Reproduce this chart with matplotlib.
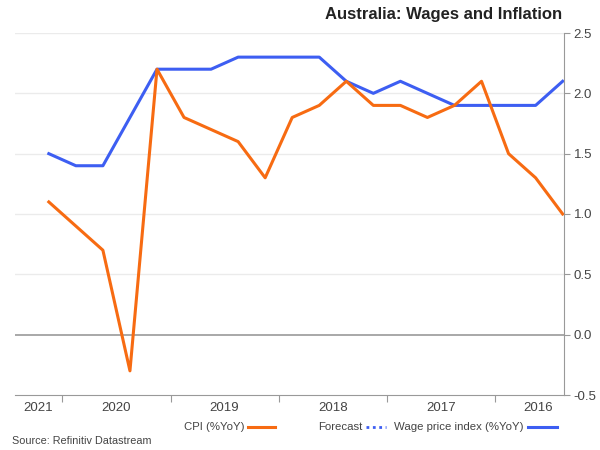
import matplotlib
matplotlib.use("Agg")
import matplotlib.pyplot as plt
from matplotlib.lines import Line2D
from matplotlib.transforms import ScaledTranslation

plt.rcParams['font.family'] = ['Liberation Sans', 'DejaVu Sans']

quarters = ["2016Q2", "2016Q3", "2016Q4", "2017Q1", "2017Q2", "2017Q3", "2017Q4",
            "2018Q1", "2018Q2", "2018Q3", "2018Q4", "2019Q1", "2019Q2", "2019Q3",
            "2019Q4", "2020Q1", "2020Q2", "2020Q3", "2020Q4", "2021Q1"]
wage_price_index = [2.1, 1.9, 1.9, 1.9, 1.9, 2.0, 2.1, 2.0, 2.1, 2.3,
                    2.3, 2.3, 2.3, 2.2, 2.2, 2.2, 1.8, 1.4, 1.4, 1.5]
cpi = [1.0, 1.3, 1.5, 2.1, 1.9, 1.8, 1.9, 1.9, 2.1, 1.9,
       1.8, 1.3, 1.6, 1.7, 1.8, 2.2, -0.3, 0.7, 0.9, 1.1]
year_labels = ["2016", "2017", "2018", "2019", "2020", "2021"]
year_label_pos = [0.9, 4.5, 8.5, 12.5, 16.5, 19.4]
year_tick_pos = [2.5, 6.5, 10.5, 14.5, 18.5]
y_ticks = [-0.5, 0.0, 0.5, 1.0, 1.5, 2.0, 2.5]

blue = "#3d5ef2"
orange = "#f76b12"
txt = "#444444"

fig = plt.figure(figsize=(6, 4.5), dpi=100)
ax = fig.add_axes([15/600, 1 - 395/450, (564 - 15)/600, (395 - 33)/450])

x = list(range(len(quarters)))
ax.plot(x, wage_price_index, color=blue, lw=2.2, zorder=3)
ax.plot(x, cpi, color=orange, lw=2.2, zorder=3)

# reversed time axis (mirrored layout)
left_idx = (565 - 15) / 27.16
ax.set_xlim(left_idx, -0.05)
ax.set_ylim(-0.5, 2.5)

ax.yaxis.tick_right()
ax.set_yticks(y_ticks)
ax.set_yticklabels([f"{v:.1f}" for v in y_ticks], color=txt, fontsize=9.5)
ax.tick_params(axis='y', length=4, color='#999999', pad=3, direction='out')
for v in y_ticks[1:]:
    if v == 0.0:
        ax.axhline(v, color='#999999', lw=1.2, zorder=1)
    else:
        ax.axhline(v, color='#ebebeb', lw=1.0, zorder=0)

ax.set_xticks(year_tick_pos)
ax.set_xticklabels([])
ax.tick_params(axis='x', length=5, color='#999999', direction='out')
lab_tr = ax.get_xaxis_transform() + ScaledTranslation(0, -7/100, fig.dpi_scale_trans)
for lab, p in zip(year_labels, year_label_pos):
    ax.text(p, 0, lab, transform=lab_tr, ha='center', va='top',
            fontsize=9.5, color=txt)

for s in ['top', 'left']:
    ax.spines[s].set_visible(False)
ax.spines['right'].set_color('#999999')
ax.spines['bottom'].set_color('#999999')

fig.text(562/600, 1 - 14/450, "Australia: Wages and Inflation", ha='right', va='center',
         fontsize=12, fontweight='bold', color='#222222')

# legend (mirrored order: markers right of text)
ly = 1 - 427/450
fig.add_artist(Line2D([528/600, 557/600], [ly, ly], color=blue, lw=2.2))
fig.text(524/600, ly, "Wage price index (%YoY)", ha='right', va='center', fontsize=8.2, color=txt)
fig.add_artist(Line2D([366/600, 386/600], [ly, ly], color=blue, lw=2.0, linestyle=(0, (1, 1.3))))
fig.text(362/600, ly, "Forecast", ha='right', va='center', fontsize=8.2, color=txt)
fig.add_artist(Line2D([248/600, 275/600], [ly, ly], color=orange, lw=2.2))
fig.text(244/600, ly, "CPI (%YoY)", ha='right', va='center', fontsize=8.2, color=txt)

fig.text(12/600, 1 - 441/450, "Source: Refinitiv Datastream", ha='left', va='center',
         fontsize=7.8, color=txt)

fig.savefig("out.png", dpi=100)
